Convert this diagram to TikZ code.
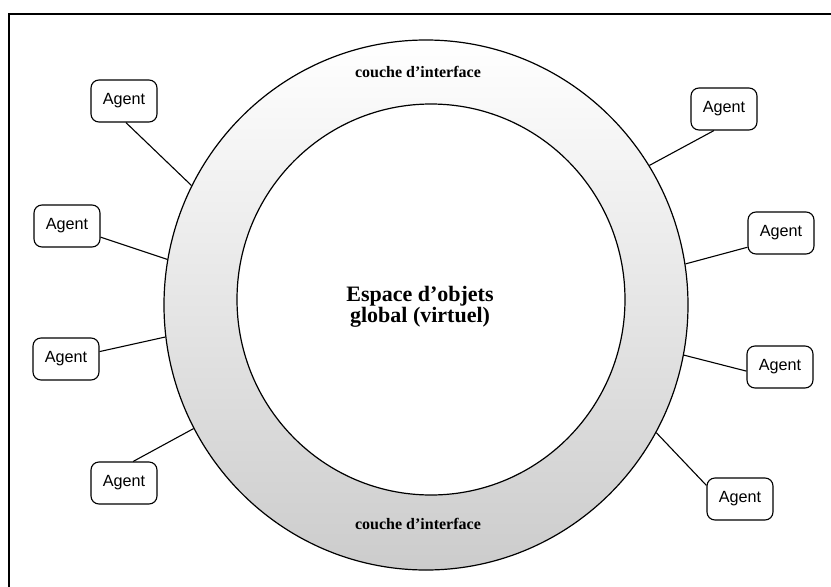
\documentclass[tikz,border=0pt]{standalone}
\usepackage{fontspec}
\setmainfont{Liberation Serif}
\newfontfamily\agentfont{Liberation Sans}
\usetikzlibrary{shapes.geometric}
\begin{document}
\begin{tikzpicture}[x=1pt,y=-1pt,
  agentbox/.style={draw, line width=1.1pt, rounded corners=8pt,
    minimum width=66pt, minimum height=42pt, inner sep=0pt,
    font=\agentfont\fontsize{16.2}{18}\selectfont},
  layer/.style={ellipse, draw, line width=1.2pt, inner sep=0pt},
  link/.style={line width=1.1pt},
  layerlabel/.style={font=\bfseries\fontsize{16}{18}\selectfont},
  spacelabel/.style={font=\bfseries\fontsize{22}{21}\selectfont, align=center}]
\useasboundingbox (0,0) rectangle (831,587);

% frame
\draw[line width=1.3pt] (9,587) -- (9,14) -- (831,14);

% interface layer: shaded ring between the two ellipses
\shade[even odd rule, top color=white, middle color=black!3, bottom color=black!20]
  (426,305) ellipse [x radius=262, y radius=265]
  (431,299.5) ellipse [x radius=194, y radius=195.5];

\node[layer, minimum width=524pt, minimum height=530pt] (outer) at (426,305) {};
\node[layer, minimum width=388pt, minimum height=391pt] (inner) at (431,299.5) {};

% labels
\node[layerlabel] (toplabel) at (418,72) {couche d'interface};
\node[layerlabel] (bottomlabel) at (418,524) {couche d'interface};
\node[spacelabel] (space) at (420,307) {Espace d'objets\\global (virtuel)};

% agents
\node[agentbox] (a1) at (124,101) {Agent};
\node[agentbox] (a2) at (67,226) {Agent};
\node[agentbox] (a3) at (66,359) {Agent};
\node[agentbox] (a4) at (124,483) {Agent};
\node[agentbox] (a5) at (724,109) {Agent};
\node[agentbox] (a6) at (781,233) {Agent};
\node[agentbox] (a7) at (780,367) {Agent};
\node[agentbox] (a8) at (740,499) {Agent};

% connections to the interface layer
\draw[link] (a1.-85) -- (outer.153.3);
\draw[link] (a2) -- (outer.170.8);
\draw[link] (a3) -- (outer.187.2);
\draw[link] (a4.67) -- (outer.208.7);
\draw[link] (a5.245) -- (outer.32.4);
\draw[link] (a6.203) -- (outer.9.2);
\draw[link] (a7.187) -- (outer.349.2);
\draw[link] (a8.158) -- (outer.331.8);
\end{tikzpicture}
\end{document}
